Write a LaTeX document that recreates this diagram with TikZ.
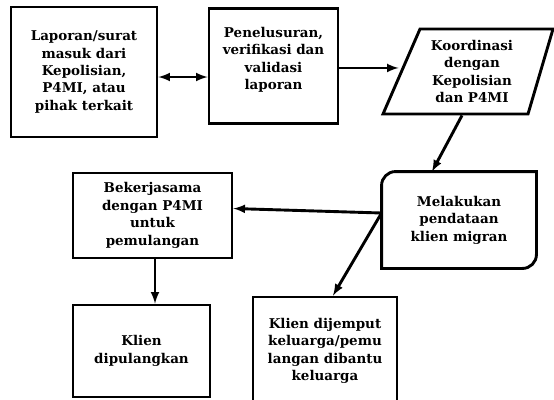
\documentclass[tikz,border=0pt]{standalone}
\usepackage{fontspec}
\setmainfont{DejaVu Serif}
\usetikzlibrary{arrows}

\begin{document}
\begin{tikzpicture}[>=latex, x=1bp, y=-1bp, line width=2.9bp,
  box/.style={draw, rectangle, align=center, inner sep=0pt,
    font=\bfseries\fontsize{13.5}{17.5}\selectfont}]

% FRAME
\useasboundingbox (0,0) rectangle (554,399);

% STEPS

% Incoming report.
\node[box, minimum width=146bp, minimum height=130bp] (laporan) at (84,72)
  {Laporan/surat\\masuk dari\\Kepolisian,\\P4MI, atau\\pihak terkait};

% Tracing and verification (text at the top).
\node[box, anchor=north, text width=129bp, text height=29bp, text depth=86bp] (penelusuran) at (273.5,7)
  {Penelusuran,\\verifikasi dan\\validasi\\laporan};

% Coordination (slanted sides drawn by hand).
\node[box, draw=none, minimum width=144bp, minimum height=85bp] (koordinasi) at (472,71.5)
  {Koordinasi\\dengan\\Kepolisian\\dan P4MI};
\draw (koordinasi.center) ++(-52,-42.5) -- ++(133,0) -- ++(-25,85) -- ++(-145,0) -- cycle;

% Data collection (two rounded corners).
\node[box, draw=none, minimum width=152bp, minimum height=94bp] (melakukan) at (459,220)
  {Melakukan\\pendataan\\klien migran};
\draw[rounded corners=14bp] (melakukan.west) |- (melakukan.north)
  [sharp corners] -| (melakukan.east)
  [rounded corners=14bp] |- (melakukan.south)
  [sharp corners] -| (melakukan.west);

% Cooperation with P4MI.
\node[box, minimum width=159bp, minimum height=85bp] (bekerjasama) at (152.5,215.5)
  {Bekerjasama\\dengan P4MI\\untuk\\pemulangan};

% Client sent home.
\node[box, minimum width=137bp, minimum height=92bp] (dipulangkan) at (141.5,351)
  {Klien\\dipulangkan};

% Client picked up.
\node[box, minimum width=144bp, minimum height=108bp] (dijemput) at (325,351)
  {Klien dijemput\\keluarga/pemu\\langan dibantu\\keluarga};

% CONNECTIONS

% Report <-> tracing.
\draw[<->] ([yshift=-5bp]laporan.east) -- ([yshift=-5bp]laporan.east -| penelusuran.west);

% Tracing -> coordination.
\draw[->] ([yshift=-2bp]penelusuran.east) -- ([yshift=-2bp]penelusuran.east -| koordinasi.west);

% Coordination -> data collection.
\draw[->] ([xshift=-10bp]koordinasi.south) -- ([xshift=-27bp]melakukan.north);

% Data collection -> cooperation / picked up.
\coordinate (split) at ([yshift=7bp]melakukan.west);
\draw[->] (split) -- ([yshift=7bp]bekerjasama.east);
\draw[->] (split) -- ([xshift=8bp]dijemput.north);

% Cooperation -> sent home.
\draw[->] ([xshift=2.5bp]bekerjasama.south) -- ([xshift=2.5bp]bekerjasama.south |- dipulangkan.north);

\end{tikzpicture}
\end{document}
